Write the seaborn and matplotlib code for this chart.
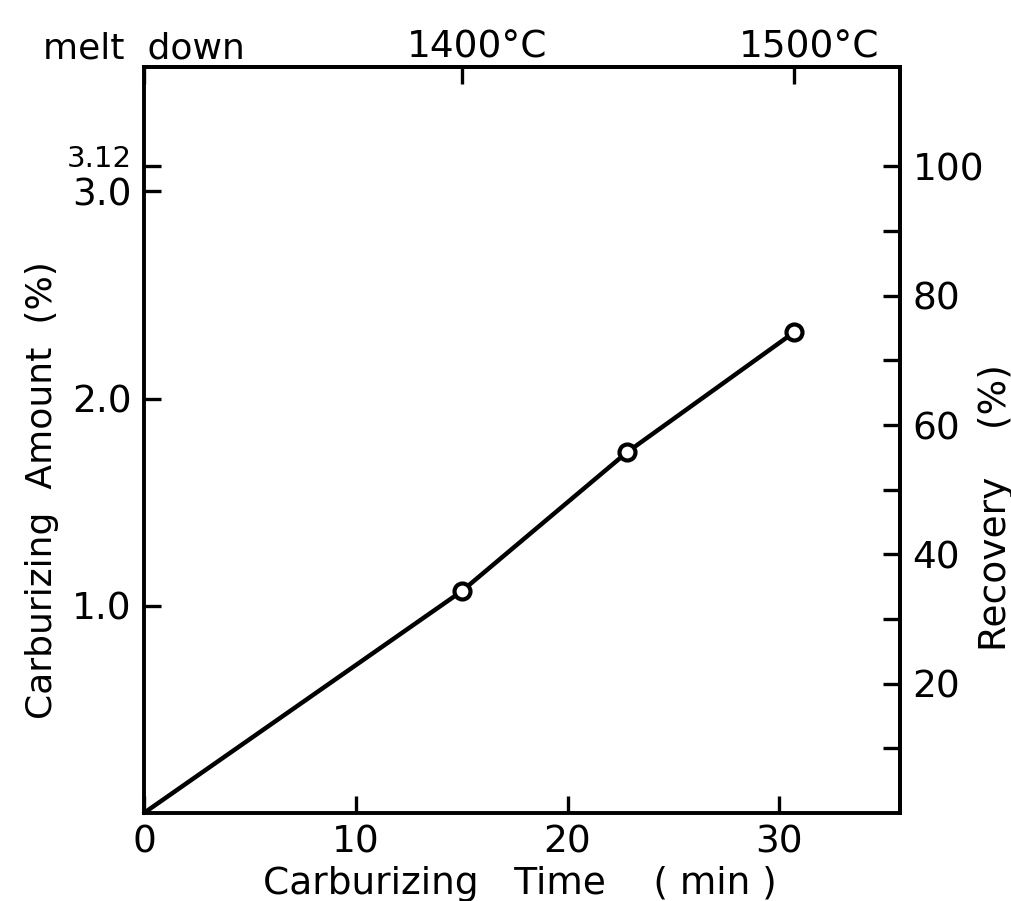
import matplotlib
matplotlib.use("Agg")
import matplotlib.pyplot as plt
import seaborn as sns
import pandas as pd
from matplotlib.ticker import FixedLocator, NullLocator
from matplotlib.transforms import ScaledTranslation

# ---- data ----
time_min = [0.0, 15.0, 22.8, 30.7]
carb_amount = [0.0, 1.07, 1.74, 2.32]
added_carbon = 3.12  # % carbon added (= 100 % recovery)

bottom_ticks = [0, 10, 20, 30]
bottom_labels = ["0", "10", "20", "30"]
top_ticks = [0.0, 15.0, 30.7]
top_labels = ["melt  down", "1400°C", "1500°C"]
left_ticks = [1.0, 2.0, 3.0, 3.12]
left_labels = ["1.0", "2.0", "3.0", "3.12"]
right_major = [20, 40, 60, 80, 100]
right_minor = [10, 30, 50, 70, 90]

sns.set_theme(style="ticks")
plt.rcParams["font.family"] = ["DejaVu Sans"]
plt.rcParams["axes.edgecolor"] = "black"
plt.rcParams["axes.linewidth"] = 2.8

fig = plt.figure(figsize=(10.12, 9.01), dpi=100)
ax = fig.add_axes([0.1423, 0.0977, 0.747, 0.8279])

df = pd.DataFrame({"time": time_min, "amount": carb_amount})
sns.lineplot(data=df, x="time", y="amount", ax=ax, color="black",
             linewidth=3.2, marker="o", markevery=[1, 2, 3], markersize=11.5,
             markerfacecolor="white", markeredgecolor="black",
             markeredgewidth=3.0, clip_on=False)

ax.set_xlim(0, 35.7)
ax.set_ylim(0, 3.6)

tick_kw = dict(direction="in", length=12, width=2.4, colors="black")

ax.set_xticks(bottom_ticks, labels=bottom_labels)
ax.set_yticks(left_ticks, labels=left_labels)
ax.xaxis.set_minor_locator(NullLocator())
ax.yaxis.set_minor_locator(NullLocator())
ax.tick_params(axis="x", labelsize=27, pad=8, **tick_kw)
ax.tick_params(axis="y", labelsize=27, pad=9, **tick_kw)
for sp in ax.spines.values():
    sp.set_linewidth(2.8)
    sp.set_color("black")

# the 3.12 label is smaller and set slightly higher
lbl312 = ax.get_yticklabels()[3]
lbl312.set_fontsize(21)
lbl312.set_transform(lbl312.get_transform() +
                     ScaledTranslation(0, 0.10, fig.dpi_scale_trans))

# top axis: temperatures
secx = ax.secondary_xaxis("top")
secx.set_xticks(top_ticks, labels=top_labels)
secx.xaxis.set_minor_locator(NullLocator())
secx.tick_params(axis="x", labelsize=27, pad=1, **tick_kw)
secx.spines["top"].set_linewidth(2.8)
ticks_top = secx.xaxis.get_major_ticks()
for t in ticks_top[0:1]:
    t.label2.set_fontsize(26)
    t.label1.set_fontsize(26)
for t in ticks_top[1:]:
    for lab in (t.label1, t.label2):
        lab.set_transform(lab.get_transform() +
                          ScaledTranslation(0.15, 0, fig.dpi_scale_trans))

# right axis: recovery
secy = ax.secondary_yaxis("right",
                          functions=(lambda a: a * 100 / added_carbon,
                                     lambda r: r * added_carbon / 100))
secy.set_yticks(right_major, labels=[str(v) for v in right_major])
secy.yaxis.set_minor_locator(FixedLocator(right_minor))
secy.tick_params(axis="y", which="both", labelsize=27, pad=9, **tick_kw)
secy.spines["right"].set_linewidth(2.8)

# axis labels
ax.set_xlabel("Carburizing   Time    ( min )", fontsize=27, color="black")
ax.xaxis.set_label_coords(0.497, -0.095)
ax.xaxis.label.set_verticalalignment("center")

ax.set_ylabel("Carburizing  Amount  (%)", fontsize=26, color="black")
ax.yaxis.set_label_coords(-0.135, 0.433)
ax.yaxis.label.set_rotation_mode("default")
ax.yaxis.label.set_verticalalignment("center")

secy.set_ylabel("Recovery    (%)", fontsize=27, color="black")
secy.yaxis.set_label_coords(1.127, 0.409, transform=ax.transAxes)
secy.yaxis.label.set_rotation_mode("default")
secy.yaxis.label.set_verticalalignment("center")

fig.savefig("out.png", dpi=100, facecolor="white")
